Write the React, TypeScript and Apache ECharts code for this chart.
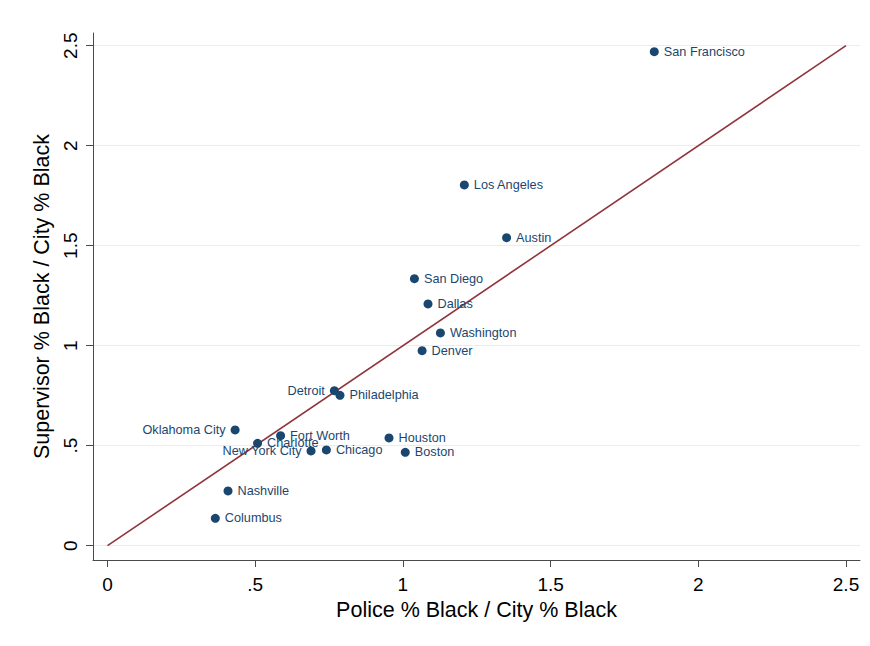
import React, { useEffect, useRef } from "react";
import * as echarts from "echarts";

const cities = [
  "San Francisco",
  "Los Angeles",
  "Austin",
  "San Diego",
  "Dallas",
  "Washington",
  "Denver",
  "Detroit",
  "Philadelphia",
  "Oklahoma City",
  "Fort Worth",
  "Charlotte",
  "New York City",
  "Chicago",
  "Houston",
  "Boston",
  "Nashville",
  "Columbus",
];
const policeRatio = [
  1.851, 1.208, 1.351, 1.039, 1.085, 1.127, 1.065, 0.768, 0.787, 0.432, 0.586,
  0.508, 0.689, 0.741, 0.953, 1.008, 0.408, 0.365,
];
const supervisorRatio = [
  2.47, 1.804, 1.54, 1.335, 1.209, 1.064, 0.975, 0.775, 0.752, 0.579, 0.55,
  0.512, 0.474, 0.479, 0.539, 0.467, 0.274, 0.137,
];
const leftLabeledCities = ["Detroit", "Oklahoma City", "New York City"];
const tickValues = [0, 0.5, 1, 1.5, 2, 2.5];
const tickLabels = ["0", ".5", "1", "1.5", "2", "2.5"];
const equalityLine = [
  [0, 0],
  [2.5, 2.5],
];

const FONT = "'Liberation Sans', Arial, Helvetica, sans-serif";
const NAVY = "#1a476f";
const MAROON = "#90353b";
const AXIS = "#4a4a4a";
const GRID = "#e6eef2";

function fmtTick(v: number): string {
  let best = 0;
  for (let i = 0; i < tickValues.length; i++) {
    if (Math.abs(tickValues[i] - v) < Math.abs(tickValues[best] - v)) best = i;
  }
  return tickLabels[best];
}

export default function App() {
  const ref = useRef<HTMLDivElement>(null);
  useEffect(() => {
    if (!ref.current) return;
    const chart = echarts.init(ref.current, undefined, { renderer: "svg" });
    const axisCommon = {
      type: "value" as const,
      nameLocation: "middle" as const,
      nameTextStyle: { fontSize: 21.5, color: "#000", fontFamily: FONT },
      axisLine: { show: true, onZero: false, lineStyle: { color: AXIS, width: 1 } },
      axisTick: {
        show: true,
        customValues: tickValues,
        length: 7,
        lineStyle: { color: AXIS, width: 1 },
      },
      splitLine: { show: false },
    };
    chart.setOption({
      animation: false,
      backgroundColor: "#ffffff",
      grid: { left: 93, right: 10, top: 33, bottom: 86, containLabel: false },
      xAxis: {
        ...axisCommon,
        min: -0.0491,
        max: 2.5474,
        name: "Police % Black / City % Black",
        nameGap: 37,
        axisLabel: {
          customValues: tickValues,
          formatter: (v: number) => fmtTick(v),
          fontSize: 19,
          color: "#000",
          fontFamily: FONT,
          margin: 15,
        },
      },
      yAxis: {
        ...axisCommon,
        min: -0.0715,
        max: 2.5635,
        name: "Supervisor % Black / City % Black",
        nameGap: 40,
        axisLabel: {
          customValues: tickValues,
          formatter: (v: number) => fmtTick(v),
          fontSize: 19,
          color: "#000",
          fontFamily: FONT,
          rotate: 90,
          margin: 13,
        },
      },
      series: [
        {
          type: "scatter",
          data: [],
          z: 0,
          silent: true,
          markLine: {
            silent: true,
            z: 0,
            zlevel: 0,
            symbol: ["none", "none"],
            label: { show: false },
            emphasis: { disabled: true },
            lineStyle: { color: GRID, width: 1.2, type: "solid" },
            data: tickValues.map((v) => ({ yAxis: v })),
          },
        },
        {
          type: "line",
          data: equalityLine,
          showSymbol: false,
          z: 3,
          silent: true,
          lineStyle: { color: MAROON, width: 1.6 },
        },
        {
          type: "scatter",
          z: 4,
          symbolSize: 9,
          itemStyle: { color: NAVY, opacity: 1 },
          label: {
            show: true,
            formatter: "{b}",
            color: NAVY,
            fontSize: 12.7,
            fontFamily: FONT,
            distance: 5,
          },
          data: cities.map((c, i) => ({
            name: c,
            value: [policeRatio[i], supervisorRatio[i]],
            label: { position: leftLabeledCities.includes(c) ? "left" : "right" },
          })),
        },
      ],
    });
    return () => chart.dispose();
  }, []);
  return (
    <div
      ref={ref}
      style={{ position: "fixed", left: 0, top: 0, width: 870, height: 646, background: "#fff" }}
    />
  );
}
